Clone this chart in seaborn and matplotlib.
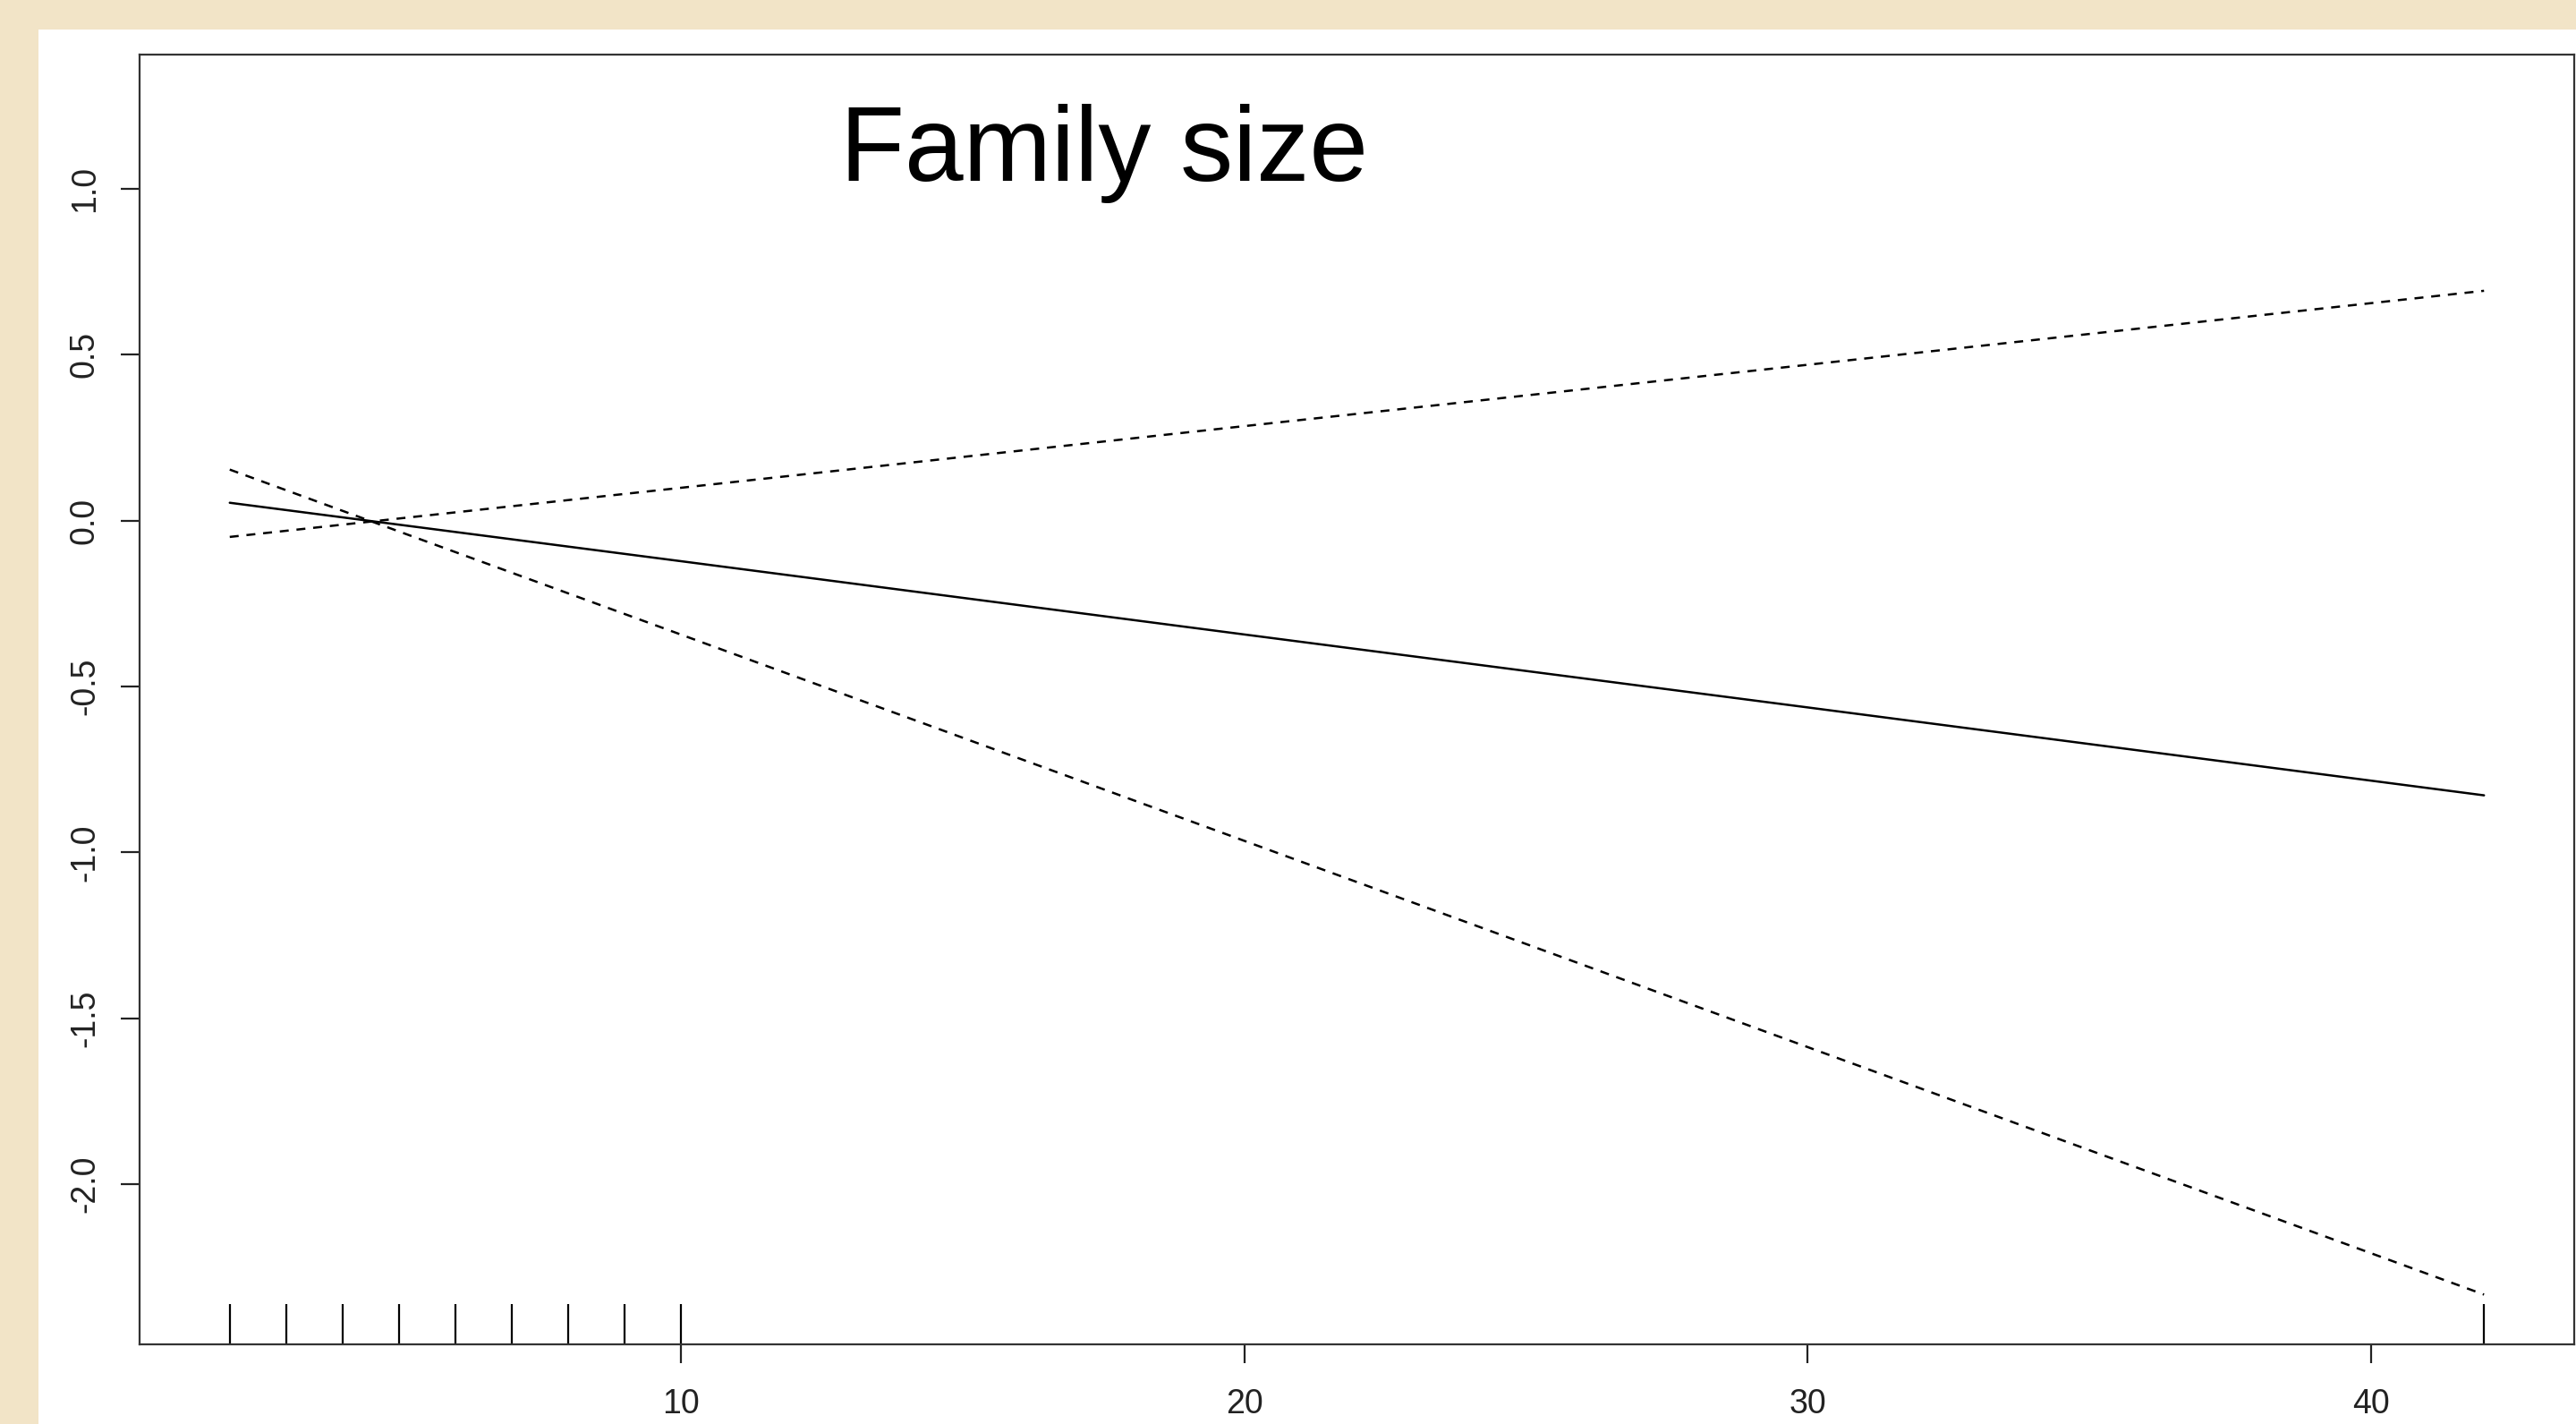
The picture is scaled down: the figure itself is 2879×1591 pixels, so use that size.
import matplotlib
matplotlib.use('Agg')
import matplotlib.pyplot as plt
import seaborn as sns
import numpy as np
import pandas as pd
from matplotlib.patches import Rectangle

# values
familySize = [2, 10, 20, 30, 42]
ajuste = [0.054, -0.122, -0.343, -0.563, -0.828]
limSup = [-0.049, 0.099, 0.285, 0.470, 0.693]
limInf = [0.154, -0.343, -0.965, -1.587, -2.333]
rugX = [2, 3, 4, 5, 6, 7, 8, 9, 10, 42]
xTicks = [10, 20, 30, 40]
yTicks = [-2.0, -1.5, -1.0, -0.5, 0.0, 0.5, 1.0]

sns.set_style('ticks')
plt.rcParams['font.family'] = ['Liberation Sans', 'DejaVu Sans']
plt.rcParams['axes.unicode_minus'] = False

W, H = 2879, 1591
fig = plt.figure(figsize=(W / 100, H / 100), dpi=100, facecolor='#f2e4c7')
fig.patches.append(Rectangle((43 / W, 0), 1, (H - 33) / H, transform=fig.transFigure,
                             facecolor='white', edgecolor='none', zorder=-10))

ax = fig.add_axes([156 / W, (H - 1502) / H, (2877 - 156) / W, (1502 - 61) / H])
ax.set_zorder(1)
ax.set_facecolor('white')

df = pd.DataFrame({'x': familySize, 'fit': ajuste, 'up': limSup, 'lo': limInf})
sns.lineplot(data=df, x='x', y='fit', ax=ax, color='black', linewidth=1.8)
sns.lineplot(data=df, x='x', y='up', ax=ax, color='black', linewidth=1.8, dashes=False,
             linestyle=(0, (4, 3.5)))
sns.lineplot(data=df, x='x', y='lo', ax=ax, color='black', linewidth=1.8, dashes=False,
             linestyle=(0, (4, 3.5)))
sns.rugplot(x=rugX, ax=ax, height=45 / 1441, color='black', linewidth=1.6)

ax.set_xlim(0.4, 43.6)
ax.set_ylim(-2.483, 1.405)
ax.set_xticks(xTicks)
ax.set_xticklabels([str(t) for t in xTicks])
ax.set_yticks(yTicks)
ax.set_yticklabels(['%.1f' % t for t in yTicks], rotation=90, va='center')
ax.set_xlabel('')
ax.set_ylabel('')
ax.tick_params(axis='both', length=15, width=1.6, color='#222222', labelsize=27,
               labelcolor='#222222')
ax.tick_params(axis='x', pad=20)
ax.tick_params(axis='y', pad=16)
for s in ax.spines.values():
    s.set_visible(True)
    s.set_color('#333333')
    s.set_linewidth(1.6)

ax.text(0.396, 0.902, 'Family size', transform=ax.transAxes, ha='center', va='baseline',
        fontsize=85, color='black')

fig.savefig('out.png', dpi=100, facecolor=fig.get_facecolor())
